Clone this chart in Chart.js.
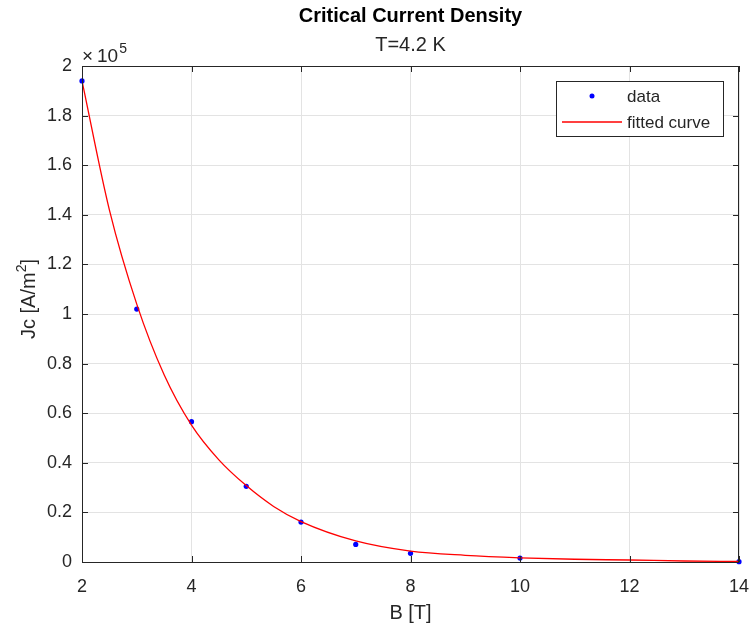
<!DOCTYPE html>
<html>
<head>
<meta charset="utf-8">
<script src="https://cdn.jsdelivr.net/npm/chart.js@4.4.1/dist/chart.umd.min.js"></script>
<style>
    html, body { margin: 0; padding: 0; background: #fff; }
    #wrap { width: 749px; height: 630px; }
</style>
</head>
<body>
<div id="wrap"><canvas id="jcChart" width="749" height="630"></canvas></div>
<script>
// measured points (B in tesla, Jc in A/m^2)
const fieldB = [2, 3, 4, 5, 6, 7, 8, 10, 14];
const jcMeasured = [194000, 102000, 56600, 30500, 16100, 7100, 3500, 1600, 150];

// fitted curve
const fitB = [2, 2.5, 3, 3.5, 4, 4.5, 5, 5.5, 6, 7, 8, 9, 10, 11, 12, 13, 14];
const fitJc = [194000, 142000, 104000, 75500, 55200, 41200, 30800, 22400, 16300, 8500, 4400, 2700, 1700, 1100, 800, 400, 200];

const xTicks = [2, 4, 6, 8, 10, 12, 14];
const yTicks = [0, 0.2, 0.4, 0.6, 0.8, 1, 1.2, 1.4, 1.6, 1.8, 2];

const textColor = '#262626';
const gridColor = '#e3e3e3';
const fontFamily = '"Liberation Sans", Arial, Helvetica, sans-serif';

function toPoints(xs, ys) {
    return xs.map((x, i) => ({ x: x, y: ys[i] }));
}

// titles, exponent, axis labels, box, inner ticks and legend
const matlabLook = {
    id: 'matlabLook',
    afterDraw(chart) {
        const ctx = chart.ctx;
        const area = chart.chartArea;
        const xs = chart.scales.x;
        const ys = chart.scales.y;
        const midX = (area.left + area.right) / 2;
        ctx.save();

        // box
        ctx.strokeStyle = textColor;
        ctx.lineWidth = 1;
        ctx.strokeRect(area.left + 0.5, area.top + 0.5, area.right - area.left - 1, area.bottom - area.top);

        // ticks pointing inward on all four sides
        ctx.beginPath();
        xTicks.forEach(v => {
            const px = Math.round(xs.getPixelForValue(v)) + 0.5;
            ctx.moveTo(px, area.bottom); ctx.lineTo(px, area.bottom - 6);
            ctx.moveTo(px, area.top); ctx.lineTo(px, area.top + 6);
        });
        yTicks.forEach(v => {
            const py = Math.round(ys.getPixelForValue(v * 1e5)) + 0.5;
            ctx.moveTo(area.left, py); ctx.lineTo(area.left + 6, py);
            ctx.moveTo(area.right, py); ctx.lineTo(area.right - 6, py);
        });
        ctx.stroke();

        // title + subtitle
        ctx.fillStyle = '#000';
        ctx.textAlign = 'center';
        ctx.textBaseline = 'middle';
        ctx.font = 'bold 20px ' + fontFamily;
        ctx.fillText('Critical Current Density', midX, 16);
        ctx.font = '20px ' + fontFamily;
        ctx.fillStyle = textColor;
        ctx.fillText('T=4.2 K', midX, 45);

        // exponent label
        ctx.textAlign = 'left';
        ctx.textBaseline = 'alphabetic';
        ctx.font = '19px ' + fontFamily;
        ctx.fillText('\u00d7', 82, 62);
        ctx.fillText('10', 97, 62);
        const w10 = ctx.measureText('10').width;
        ctx.font = '14px ' + fontFamily;
        ctx.fillText('5', 97 + w10 + 1, 53);

        // x axis label
        ctx.textAlign = 'center';
        ctx.textBaseline = 'middle';
        ctx.font = '20px ' + fontFamily;
        ctx.fillText('B [T]', midX, 613);

        // y axis label with superscript
        ctx.save();
        ctx.translate(29, 299);
        ctx.rotate(-Math.PI / 2);
        ctx.textAlign = 'left';
        ctx.textBaseline = 'middle';
        ctx.font = '20px ' + fontFamily;
        const partA = 'Jc [A/m';
        const wa = ctx.measureText(partA).width;
        ctx.font = '14px ' + fontFamily;
        const w2 = ctx.measureText('2').width;
        ctx.font = '20px ' + fontFamily;
        const wb = ctx.measureText(']').width;
        const start = -(wa + w2 + wb) / 2;
        ctx.fillText(partA, start, 0);
        ctx.font = '14px ' + fontFamily;
        ctx.fillText('2', start + wa, -7);
        ctx.font = '20px ' + fontFamily;
        ctx.fillText(']', start + wa + w2, 0);
        ctx.restore();

        // legend
        const lx = 556, ly = 81, lw = 167, lh = 55;
        ctx.fillStyle = '#fff';
        ctx.fillRect(lx, ly, lw, lh);
        ctx.strokeStyle = textColor;
        ctx.strokeRect(lx + 0.5, ly + 0.5, lw, lh);
        const ds = chart.data.datasets;
        ctx.fillStyle = ds[0].backgroundColor;
        ctx.beginPath();
        ctx.arc(592, 96, 2.5, 0, Math.PI * 2);
        ctx.fill();
        ctx.strokeStyle = ds[1].borderColor;
        ctx.lineWidth = 1.3;
        ctx.beginPath();
        ctx.moveTo(562, 122); ctx.lineTo(622, 122);
        ctx.stroke();
        ctx.fillStyle = textColor;
        ctx.textAlign = 'left';
        ctx.font = '17px ' + fontFamily;
        ctx.fillText(ds[0].label, 627, 97);
        ctx.fillText(ds[1].label, 627, 123);

        ctx.restore();
    }
};

const ctx = document.getElementById('jcChart').getContext('2d');
const chart = new Chart(ctx, {
    type: 'scatter',
    data: {
        datasets: [{
            label: 'data',
            data: toPoints(fieldB, jcMeasured),
            backgroundColor: '#0000ff',
            borderColor: '#0000ff',
            pointRadius: 2.6,
            pointBorderWidth: 0,
            clip: false,
            order: 2
        }, {
            label: 'fitted curve',
            data: toPoints(fitB, fitJc),
            showLine: true,
            borderColor: '#ff0000',
            backgroundColor: '#ff0000',
            borderWidth: 1.3,
            pointRadius: 0,
            cubicInterpolationMode: 'monotone',
            order: 1
        }]
    },
    options: {
        responsive: false,
        animation: false,
        layout: { padding: { top: 66, right: 10, left: 0, bottom: 0 } },
        plugins: {
            legend: { display: false },
            tooltip: { enabled: false },
            title: { display: false }
        },
        scales: {
            x: {
                type: 'linear',
                min: 2,
                max: 14,
                afterFit: s => { s.height = 68; s.paddingLeft = 0; s.paddingRight = 0; },
                afterBuildTicks: s => { s.ticks = xTicks.map(v => ({ value: v })); },
                ticks: {
                    color: textColor,
                    font: { family: fontFamily, size: 18 },
                    padding: 14,
                    maxRotation: 0
                },
                grid: { color: gridColor, drawTicks: false },
                border: { display: false }
            },
            y: {
                type: 'linear',
                min: 0,
                max: 200000,
                afterFit: s => { s.width = 82; s.paddingTop = 0; s.paddingBottom = 0; },
                afterBuildTicks: s => { s.ticks = yTicks.map(v => ({ value: v * 1e5 })); },
                ticks: {
                    color: textColor,
                    font: { family: fontFamily, size: 18 },
                    padding: 10,
                    callback: v => String(Math.round(v / 1e4) / 10)
                },
                grid: { color: gridColor, drawTicks: false },
                border: { display: false }
            }
        }
    },
    plugins: [matlabLook]
});
</script>
</body>
</html>
